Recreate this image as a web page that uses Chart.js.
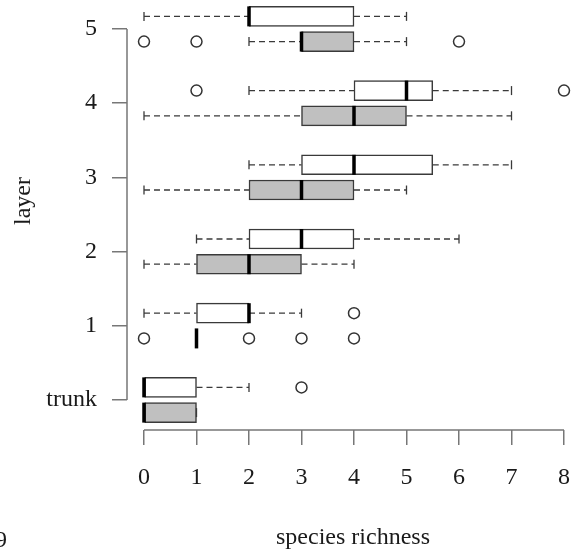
<!DOCTYPE html>
<html>
<head>
<meta charset="utf-8">
<script src="https://cdn.jsdelivr.net/npm/chart.js@4.4.1/dist/chart.umd.min.js"></script>
<style>
  html, body { margin: 0; padding: 0; background: #fff; }
  #wrap { width: 573px; height: 556px; }
</style>
</head>
<body>
<div id="wrap"><canvas id="boxChart" width="573" height="556"></canvas></div>
<script>
// layers on the y axis, bottom to top
const layerLabels = ['trunk', '1', '2', '3', '4', '5'];
const layerPos = [0, 1, 2, 3, 4, 5];
const richnessTicks = [0, 1, 2, 3, 4, 5, 6, 7, 8];

// white boxes (upper box of each pair)
const whiteMin = [0, 0, 1, 2, 2, 0];
const whiteQ1 = [0, 1, 2, 3, 4, 2];
const whiteMedian = [0, 2, 3, 4, 5, 2];
const whiteQ3 = [1, 2, 4, 5.5, 5.5, 4];
const whiteMax = [2, 3, 6, 7, 7, 5];
const whiteOutliers = [[3], [4], [], [], [1, 8], []];

// grey boxes (lower box of each pair)
const greyMin = [0, 1, 0, 0, 0, 2];
const greyQ1 = [0, 1, 1, 2, 3, 3];
const greyMedian = [0, 1, 2, 3, 4, 3];
const greyQ3 = [1, 1, 3, 4, 5, 4];
const greyMax = [1, 1, 4, 5, 7, 5];
const greyOutliers = [[], [0, 2, 3, 4], [], [], [], [0, 1, 6]];

const FONT = '"Liberation Serif", "Times New Roman", serif';
const INK = '#1a1a1a';
const AXIS = '#777';
const EDGE = '#3a3a3a';
const BOX_PX = 20;
const pairOffset = 0.17;

const groups = [
    { min: whiteMin, q1: whiteQ1, med: whiteMedian, q3: whiteQ3, max: whiteMax, out: whiteOutliers, off: pairOffset, fill: '#ffffff' },
    { min: greyMin, q1: greyQ1, med: greyMedian, q3: greyQ3, max: greyMax, out: greyOutliers, off: -pairOffset, fill: '#c0c0c0' }
];

function boxDataset(g) {
    return {
        type: 'bar',
        indexAxis: 'y',
        grouped: false,
        barThickness: BOX_PX,
        data: layerPos.map((p, i) => ({ x: [g.q1[i], g.q3[i]], y: p + g.off })),
        backgroundColor: g.fill,
        borderColor: EDGE,
        borderWidth: 1.5,
        borderSkipped: false
    };
}

function outlierDataset(g) {
    const pts = [];
    g.out.forEach((xs, i) => xs.forEach(x => pts.push({ x: x, y: layerPos[i] + g.off })));
    return {
        type: 'scatter',
        data: pts,
        pointRadius: 5.5,
        pointHoverRadius: 5.5,
        pointBorderWidth: 1.5,
        pointBorderColor: '#333',
        pointBackgroundColor: 'rgba(0,0,0,0)'
    };
}

// whiskers, staples, medians, R-style axis lines and titles
const boxParts = {
    id: 'boxParts',
    afterDatasetsDraw(chart) {
        const ctx = chart.ctx;
        const xs = chart.scales.x, ys = chart.scales.y;
        ctx.save();
        groups.forEach(g => {
            layerPos.forEach((p, i) => {
                const y = ys.getPixelForValue(p + g.off);
                // whiskers
                ctx.strokeStyle = EDGE;
                ctx.lineWidth = 1.3;
                ctx.setLineDash([6, 4]);
                [[g.min[i], g.q1[i]], [g.q3[i], g.max[i]]].forEach(([a, b]) => {
                    if (a === b) return;
                    ctx.beginPath();
                    ctx.moveTo(xs.getPixelForValue(a), y);
                    ctx.lineTo(xs.getPixelForValue(b), y);
                    ctx.stroke();
                });
                ctx.setLineDash([]);
                [g.min[i], g.max[i]].forEach(v => {
                    const px = xs.getPixelForValue(v);
                    ctx.beginPath();
                    ctx.moveTo(px, y - 4.5);
                    ctx.lineTo(px, y + 4.5);
                    ctx.stroke();
                });
                // median
                const mx = xs.getPixelForValue(g.med[i]);
                ctx.strokeStyle = '#000';
                ctx.lineWidth = 3.5;
                ctx.beginPath();
                ctx.moveTo(mx, y - BOX_PX / 2);
                ctx.lineTo(mx, y + BOX_PX / 2);
                ctx.stroke();
            });
        });
        ctx.restore();
    },
    afterDraw(chart) {
        const ctx = chart.ctx;
        const xs = chart.scales.x, ys = chart.scales.y;
        const area = chart.chartArea;
        ctx.save();
        ctx.strokeStyle = AXIS;
        ctx.lineWidth = 1.5;
        ctx.beginPath();
        ctx.moveTo(area.left, ys.getPixelForValue(layerPos[0]));
        ctx.lineTo(area.left, ys.getPixelForValue(layerPos[layerPos.length - 1]));
        ctx.moveTo(xs.getPixelForValue(richnessTicks[0]), area.bottom);
        ctx.lineTo(xs.getPixelForValue(richnessTicks[richnessTicks.length - 1]), area.bottom);
        ctx.stroke();

        ctx.fillStyle = INK;
        ctx.font = '24px ' + FONT;
        ctx.textAlign = 'center';
        ctx.textBaseline = 'alphabetic';
        ctx.fillText('species richness', 353, 544);
        ctx.textAlign = 'left';
        ctx.fillText('9', -5, 547);
        ctx.translate(30, 201);
        ctx.rotate(-Math.PI / 2);
        ctx.textAlign = 'center';
        ctx.fillText('layer', 0, 0);
        ctx.restore();
    }
};

// keep the plot region fixed: no extra padding for tick labels
function noPadding(s) {
    s.paddingLeft = 0;
    s.paddingRight = 0;
    s.paddingTop = 0;
    s.paddingBottom = 0;
}

const chart = new Chart(document.getElementById('boxChart'), {
    type: 'scatter',
    data: {
        datasets: [
            boxDataset(groups[0]),
            boxDataset(groups[1]),
            outlierDataset(groups[0]),
            outlierDataset(groups[1])
        ]
    },
    options: {
        responsive: false,
        animation: false,
        events: [],
        layout: { padding: 0, autoPadding: false },
        plugins: {
            legend: { display: false },
            tooltip: { enabled: false }
        },
        scales: {
            x: {
                type: 'linear',
                position: 'bottom',
                offset: false,
                min: -0.3238,
                max: 8.1714,
                afterBuildTicks: s => { s.ticks = richnessTicks.map(v => ({ value: v })); },
                afterFit: s => { s.height = 126; noPadding(s); },
                grid: { offset: false, drawOnChartArea: false, drawTicks: true, tickLength: 15, color: AXIS, lineWidth: 1.5 },
                border: { display: false },
                ticks: { color: INK, padding: 18, font: { family: FONT, size: 24 }, maxRotation: 0 }
            },
            y: {
                type: 'linear',
                position: 'left',
                offset: false,
                min: -0.4043,
                max: 5.3908,
                afterBuildTicks: s => { s.ticks = layerPos.map(v => ({ value: v })); },
                afterFit: s => { s.width = 127; noPadding(s); },
                grid: { offset: false, drawOnChartArea: false, drawTicks: true, tickLength: 15, color: AXIS, lineWidth: 1.5 },
                border: { display: false },
                ticks: {
                    color: INK,
                    padding: 15,
                    font: { family: FONT, size: 24 },
                    callback: v => layerLabels[layerPos.indexOf(v)]
                }
            }
        }
    },
    plugins: [boxParts]
});
</script>
</body>
</html>
